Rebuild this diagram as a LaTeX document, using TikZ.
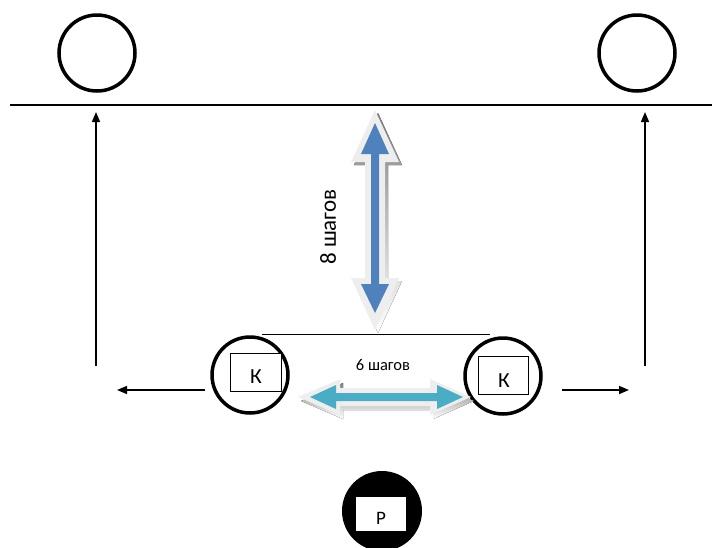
\documentclass[tikz,border=0pt]{standalone}
\usepackage{fontspec}
\setmainfont{Carlito}
\usetikzlibrary{arrows.meta}
\definecolor{arrblue}{HTML}{4F81BD}
\definecolor{arrcyan}{HTML}{4BACC6}
\definecolor{bevel}{HTML}{EEEEEE}
\definecolor{shade}{HTML}{A3AEBB}
\begin{document}
\begin{tikzpicture}[x=1pt,y=-1pt,
  ring/.style={circle,draw=black,line width=3.5pt,minimum size=76pt,inner sep=0pt},
  box/.style={draw=black,line width=1pt,fill=white,inner sep=0pt},
  conn/.style={draw=black,line width=1.5pt,-{Triangle[length=10pt,width=8pt]}},
  lbl/.style={inner sep=0pt,anchor=base}]
\useasboundingbox (0,0) rectangle (712,547);
% top line
\coordinate (hl) at (10,105);
\coordinate (hr) at (712,105);
\draw[line width=1.5pt] (hl) -- (hr);
% top circles
\node[ring] (t1) at (97,53) {};
\node[ring] (t2) at (637,53) {};
% vertical arrows
\coordinate (v1a) at (96,366);
\coordinate (v1b) at (96,112);
\coordinate (v2a) at (645,366);
\coordinate (v2b) at (645,112);
\draw[conn] (v1a) -- (v1b);
\draw[conn] (v2a) -- (v2b);
% K circles
\node[ring] (k1) at (250,375) {};
\node[ring] (k2) at (503,376) {};
\node[box,minimum width=51pt,minimum height=38pt] (b1) at (255.5,372) {};
\node[box,minimum width=50pt,minimum height=38pt] (b2) at (503,375) {};
\node[lbl,font=\fontsize{21.5}{21.5}\selectfont] (kt1) at (256,383) {К};
\node[lbl,font=\fontsize{21.5}{21.5}\selectfont] (kt2) at (504,387) {К};
\coordinate (tl) at (262,334);
\coordinate (tr) at (490,334);
\draw[line width=1pt] (tl) -- (tr);
% side arrows
\coordinate (la) at (205,390);
\coordinate (lb) at (117,390);
\coordinate (ra) at (562,390);
\coordinate (rb) at (629,390);
\draw[conn] (la) -- (lb);
\draw[conn] (ra) -- (rb);
% vertical blue double arrow
\begin{scope}[shift={(3,3)}]
\fill[shade] (375,110) -- (399,162) -- (385,162) -- (385,278) -- (399,278) -- (375,330) -- (351,278) -- (365,278) -- (365,162) -- (351,162) -- cycle;
\end{scope}
\fill[bevel] (375,110) -- (399,162) -- (385,162) -- (385,278) -- (399,278) -- (375,330) -- (351,278) -- (365,278) -- (365,162) -- (351,162) -- cycle;
\fill[arrblue] (375,123) -- (389,154) -- (379,154) -- (379,284) -- (389,284) -- (375,313) -- (361,284) -- (371,284) -- (371,154) -- (361,154) -- cycle;
\node[inner sep=0pt,rotate=90,font=\fontsize{23}{23}\selectfont] (vt) at (328,227) {8 шагов};
% horizontal cyan double arrow
\begin{scope}[shift={(3,4)}]
\fill[shade] (298,397) -- (340,379) -- (340,388) -- (430,388) -- (430,379) -- (471,397) -- (430,415) -- (430,406) -- (340,406) -- (340,415) -- cycle;
\end{scope}
\fill[bevel] (298,397) -- (340,379) -- (340,388) -- (430,388) -- (430,379) -- (471,397) -- (430,415) -- (430,406) -- (340,406) -- (340,415) -- cycle;
\fill[arrcyan] (310,397) -- (336,385) -- (336,393) -- (437,393) -- (437,385) -- (463,397) -- (437,409) -- (437,401) -- (336,401) -- (336,409) -- cycle;
\node[lbl,font=\fontsize{16.5}{16.5}\selectfont] (ht) at (383,370) {6 шагов};
% bottom P circle
\node[circle,fill=black,minimum size=80pt,inner sep=0pt] (p) at (382,511) {};
\node[fill=white,inner sep=0pt,minimum width=50pt,minimum height=34pt] (pb) at (381,514) {};
\node[lbl,font=\fontsize{19}{19}\selectfont] (pt) at (381,524) {Р};
\end{tikzpicture}
\end{document}
